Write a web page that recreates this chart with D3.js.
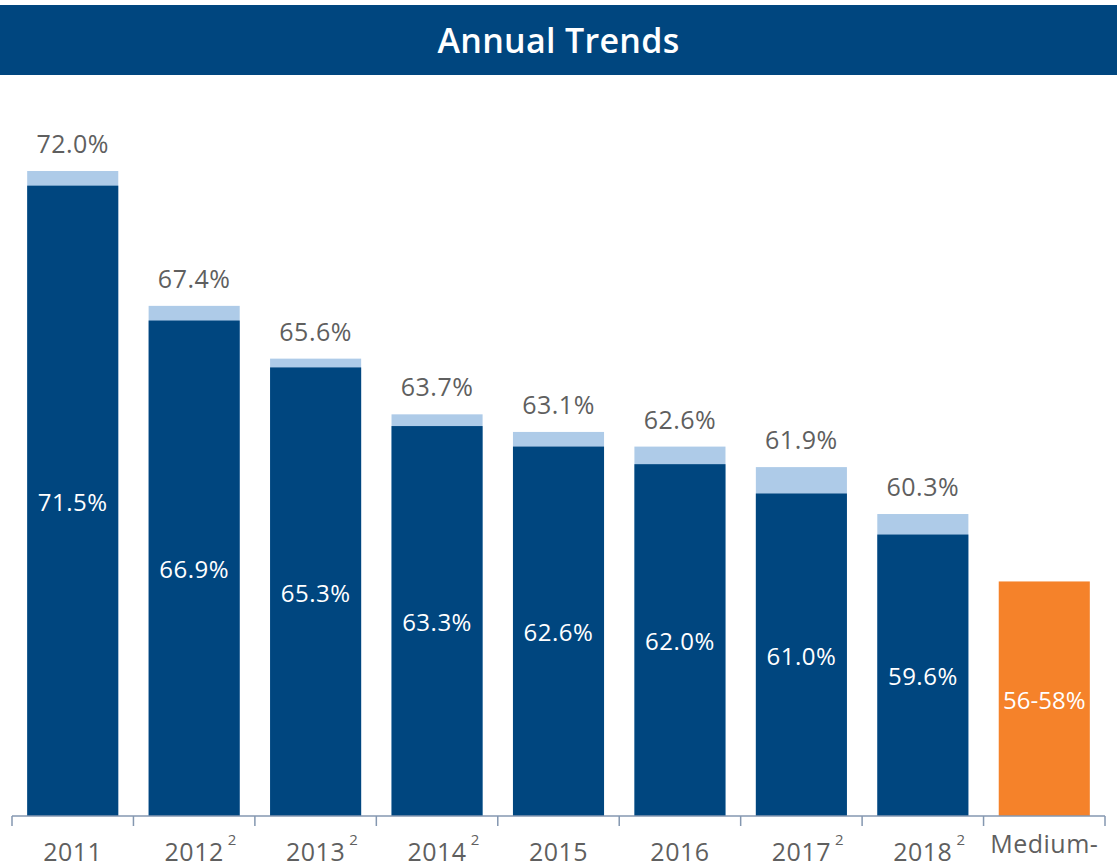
<!DOCTYPE html>
<html>
<head>
<meta charset="utf-8">
<script src="https://cdn.jsdelivr.net/npm/d3@7"></script>
<style>
  body { margin: 0; background: #fff; }
  svg { display: block; font-family: 'Open Sans', sans-serif; }
</style>
</head>
<body>
<div class="chart"></div>
<script>
// values
const categories = ['2011', '2012', '2013', '2014', '2015', '2016', '2017', '2018', 'Medium-'];
const footnotes = ['', '2', '2', '2', '', '', '2', '2', ''];
const totalValues = [72.0, 67.4, 65.6, 63.7, 63.1, 62.6, 61.9, 60.3];
const innerValues = [71.5, 66.9, 65.3, 63.3, 62.6, 62.0, 61.0, 59.6];
const targetRange = [56, 58];
const targetLabel = '56-58%';

const width = 1117, height = 864;
const dark = '#00467f', light = '#aecbe8', orange = '#f5822a', grey = '#5f5f5f';

const svg = d3.select('.chart')
  .append('svg')
  .attr('width', width)
  .attr('height', height);

// title bar
svg.append('rect')
  .attr('x', 0).attr('y', 5)
  .attr('width', width).attr('height', 70)
  .attr('fill', dark);

svg.append('text')
  .attr('x', width / 2).attr('y', 53)
  .attr('text-anchor', 'middle')
  .attr('fill', '#fff')
  .attr('font-size', '34px')
  .attr('font-weight', 600)
  .attr('letter-spacing', '0.3px')
  .text('Annual Trends');

const x = d3.scaleBand()
  .domain(categories)
  .range([12, 1105])
  .paddingInner(0.25)
  .paddingOuter(0.125);

const y = d3.scaleLinear()
  .domain([50, 72])
  .range([816, 171]);

const years = categories.slice(0, totalValues.length);
const data = years.map((c, i) => ({ cat: c, total: totalValues[i], inner: innerValues[i] }));

// light top part
svg.selectAll('.total')
  .data(data)
  .enter()
  .append('rect')
  .attr('class', 'total')
  .attr('x', d => x(d.cat))
  .attr('y', d => y(d.total))
  .attr('width', x.bandwidth())
  .attr('height', d => y(50) - y(d.total))
  .attr('fill', light);

svg.selectAll('.inner')
  .data(data)
  .enter()
  .append('rect')
  .attr('class', 'inner')
  .attr('x', d => x(d.cat))
  .attr('y', d => y(d.inner))
  .attr('width', x.bandwidth())
  .attr('height', d => y(50) - y(d.inner))
  .attr('fill', dark);

svg.selectAll('.topLabel')
  .data(data)
  .enter()
  .append('text')
  .attr('class', 'topLabel')
  .attr('x', d => x(d.cat) + x.bandwidth() / 2)
  .attr('y', d => y(d.total) - 18)
  .attr('text-anchor', 'middle')
  .attr('fill', grey)
  .attr('font-size', '25px')
  .attr('letter-spacing', '0.5px')
  .text(d => d.total.toFixed(1) + '%');

svg.selectAll('.innerLabel')
  .data(data)
  .enter()
  .append('text')
  .attr('class', 'innerLabel')
  .attr('x', d => x(d.cat) + x.bandwidth() / 2)
  .attr('y', d => (y(d.inner) + y(50)) / 2 + 10)
  .attr('text-anchor', 'middle')
  .attr('fill', '#fff')
  .attr('font-size', '24px')
  .attr('letter-spacing', '0.5px')
  .text(d => d.inner.toFixed(1) + '%');

// target bar
const target = categories[categories.length - 1];
svg.append('rect')
  .attr('x', x(target))
  .attr('y', y(targetRange[1]))
  .attr('width', x.bandwidth())
  .attr('height', y(50) - y(targetRange[1]))
  .attr('fill', orange);

svg.append('text')
  .attr('x', x(target) + x.bandwidth() / 2)
  .attr('y', (y(targetRange[1]) + y(50)) / 2 + 10)
  .attr('text-anchor', 'middle')
  .attr('fill', '#fff')
  .attr('font-size', '24px')
  .text(targetLabel);

// axis
const axis = svg.append('g').attr('stroke', '#8497b0').attr('stroke-width', 1.5);
const edges = categories.map(c => x(c) - x.step() * x.paddingInner() / 2)
  .concat([x(target) + x.bandwidth() + x.step() * x.paddingInner() / 2]);

axis.append('line')
  .attr('x1', edges[0]).attr('x2', edges[edges.length - 1])
  .attr('y1', y(50)).attr('y2', y(50));

axis.selectAll('.tick')
  .data(edges)
  .enter()
  .append('line')
  .attr('x1', d => d).attr('x2', d => d)
  .attr('y1', y(50)).attr('y2', y(50) + 10);

const labels = svg.selectAll('.xLabel')
  .data(categories)
  .enter()
  .append('g')
  .attr('class', 'xLabel')
  .attr('transform', c => `translate(${x(c) + x.bandwidth() / 2},${c === target ? 853 : 861})`);

labels.append('text')
  .attr('text-anchor', 'middle')
  .attr('fill', grey)
  .attr('font-size', '25px')
  .attr('letter-spacing', '0.5px')
  .text(c => c);

labels.each(function (c, i) {
  if (!footnotes[i]) return;
  const w = this.querySelector('text').getComputedTextLength();
  d3.select(this).append('text')
    .attr('x', w / 2 + 4)
    .attr('y', -16)
    .attr('fill', grey)
    .attr('font-size', '15px')
    .text(footnotes[i]);
});
</script>
</body>
</html>
